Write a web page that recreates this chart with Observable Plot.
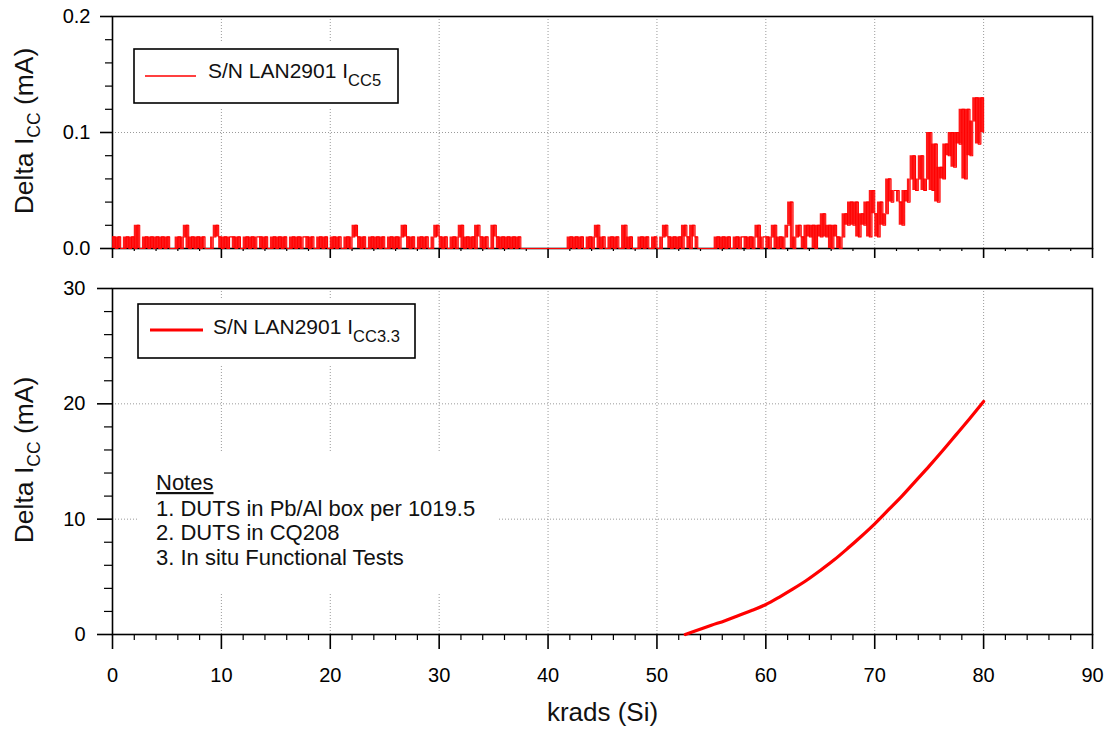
<!DOCTYPE html>
<html><head><meta charset="utf-8">
<script src="https://cdn.jsdelivr.net/npm/d3@7"></script>
<script src="https://cdn.jsdelivr.net/npm/@observablehq/plot@0.6"></script>
<style>
html,body{margin:0;padding:0;background:#fff;}
#chart{position:relative;width:1110px;height:732px;overflow:hidden;}
#chart svg{position:absolute;left:0;}
</style></head><body><div id="chart"></div>
<script>
// ---------- DATA ----------
// Top panel: Delta ICC5 (in µA), sampled every 0.25 krad from 0 to 80
const icc5_0_10  = [10,0,10,0, 0,10,0,10, 0,20,0,0, 10,0,10,0, 10,0,10,0, 10,0,0,0, 10,0,10,20, 0,10,0,10, 0,10,0,0, 0,10,20,10];
const icc5_10_20 = [0,10,0,10, 10,0,10,0, 0,10,0,10, 0,10,10,0, 10,0,0,10, 0,10,0,10, 0,0,10,0, 10,0,10,10, 0,10,0,0, 10,0,10,0];
const icc5_20_30 = [0,10,0,10, 0,0,10,0, 10,20,10,0, 10,0,0,10, 0,10,0,10, 0,0,10,0, 10,0,10,20, 10,0,10,0, 0,10,0,10, 0,0,10,20];
const icc5_30_40 = [10,0,10,0, 0,10,0,10, 20,0,10,0, 10,0,20,10, 0,10,0,0, 20,10,0,10, 0,10,0,10, 0,10,0,0, 0,0,0,0, 0,0,0,0];
const icc5_40_50 = [0,0,0,0, 0,0,0,0, 10,0,10,0, 10,0,0,10, 0,10,20,0, 10,0,0,10, 0,10,0,0, 20,0,10,0, 0,0,10,0, 10,0,0,10];
const icc5_50_60 = [0,0,10,20, 10,0,10,0, 10,0,20,10, 0,20,10,0, 0,0,0,0, 0,0,10,0, 10,0,10,0, 0,10,0,10, 10,0,10,0, 10,20,0,10];
const icc5_60_70 = [10,0,10,20, 0,10,0,10, 20,40,0,10, 20,10,0,20, 10,20,0,20, 10,30,10,20, 0,20,10,0, 10,30,20,40, 20,40,10,30, 20,40,10,50];
const icc5_70_80 = [30,10,40,20, 30,60,40,50, 50,40,20,50, 40,60,80,50, 60,80,50,60, 100,50,90,40, 70,60,90,80, 100,70,100,90, 120,60,120,80, 110,130,90,130, 100];
const icc5Step = 0.25; // krad between samples

// Bottom panel: Delta ICC3.3 (mA)
const krad33 = [52.6, 53.5, 55, 56.25, 57.5, 58.75, 60, 61.25, 62.5, 63.75, 65, 66.25, 67.5, 68.75, 70, 71.25, 72.5, 73.75, 75, 76.25, 77.5, 78.75, 80];
const icc33  = [0, 0.3, 0.8, 1.2, 1.65, 2.1, 2.6, 3.25, 3.95, 4.7, 5.55, 6.45, 7.45, 8.5, 9.6, 10.8, 12.0, 13.3, 14.6, 15.95, 17.35, 18.75, 20.2];

// Ticks
const xMajorTicks = [0, 10, 20, 30, 40, 50, 60, 70, 80, 90];
const xMinorTicks = [2,4,6,8,12,14,16,18,22,24,26,28,32,34,36,38,42,44,46,48,52,54,56,58,62,64,66,68,72,74,76,78,82,84,86,88];
const xGridTicks = [10, 20, 30, 40, 50, 60, 70, 80];
const topMajorTicks = [0, 0.1, 0.2];
const topMinorTicks = [0.02, 0.04, 0.06, 0.08, 0.12, 0.14, 0.16, 0.18];
const topGridTicks = [0.1];
const botMajorTicks = [0, 10, 20, 30];
const botMinorTicks = [2, 4, 6, 8, 12, 14, 16, 18, 22, 24, 26, 28];
const botGridTicks = [10, 20];

// Text
const xTitle = "krads (Si)";
const yTitleMain = "Delta I", yTitleSub = "CC", yTitleEnd = " (mA)";
const legendTop = ["S/N LAN2901 I", "CC5"];
const legendBot = ["S/N LAN2901 I", "CC3.3"];
const notesTitle = "Notes";
const notesLines = ["1. DUTS in Pb/Al box per 1019.5", "2. DUTS in CQ208", "3. In situ Functional Tests"];

// ---------- BUILD ----------
const icc5All = [].concat(icc5_0_10, icc5_10_20, icc5_20_30, icc5_30_40, icc5_40_50, icc5_50_60, icc5_60_70, icc5_70_80);
const topData = icc5All.map((v, i) => {
  const n = i + 1 < icc5All.length ? icc5All[i + 1] : v;
  return {krad: i * icc5Step, icc: v / 1000, lo: Math.min(v, n) / 1000, hi: Math.max(v, n) / 1000};
});
const botData = krad33.map((k, i) => ({krad: k, icc: icc33[i]}));

const FONT = '"Liberation Sans", Arial, Helvetica, sans-serif';
const RED = "#ff0000";
const gridStyle = {stroke: "#9a9a9a", strokeOpacity: 1, strokeDasharray: "1,2", strokeWidth: 1};
const blank = () => "";

const topPlot = Plot.plot({
  width: 1110, height: 270,
  marginLeft: 112, marginRight: 18, marginTop: 16, marginBottom: 22,
  style: {fontFamily: FONT, fontSize: "20px", color: "black", background: "transparent", overflow: "visible"},
  x: {domain: [0, 90]},
  y: {domain: [0, 0.2]},
  marks: [
    Plot.gridX({ticks: xGridTicks, ...gridStyle}),
    Plot.gridY({ticks: topGridTicks, ...gridStyle}),
    Plot.axisX({ticks: xMajorTicks, tickSize: 10, tickFormat: blank, label: null, strokeWidth: 1.6}),
    Plot.axisX({ticks: xMinorTicks, tickSize: 3, tickFormat: blank, label: null, strokeWidth: 1.2}),
    Plot.axisY({ticks: topMajorTicks, tickSize: 12, tickPadding: 10, tickFormat: ".1f", label: null, strokeWidth: 1.6}),
    Plot.axisY({ticks: topMinorTicks, tickSize: 7, tickFormat: blank, label: null, strokeWidth: 1.2}),
    Plot.frame({stroke: "black", strokeWidth: 1.6}),
    Plot.areaY(topData, {x: "krad", y1: "lo", y2: "hi", curve: "step-after", fill: RED, fillOpacity: 0.9}),
    Plot.line(topData, {x: "krad", y: "icc", stroke: RED, strokeWidth: 1.1, curve: "step-after"})
  ]
});

const botPlot = Plot.plot({
  width: 1110, height: 462,
  marginLeft: 112, marginRight: 18, marginTop: 18, marginBottom: 98,
  style: {fontFamily: FONT, fontSize: "20px", color: "black", background: "transparent", overflow: "visible"},
  x: {domain: [0, 90]},
  y: {domain: [0, 30]},
  marks: [
    Plot.gridX({ticks: xGridTicks, ...gridStyle}),
    Plot.gridY({ticks: botGridTicks, ...gridStyle}),
    Plot.axisX({ticks: xMajorTicks, tickSize: 15, tickPadding: 18, tickFormat: d => String(d), label: null, strokeWidth: 1.6}),
    Plot.axisX({ticks: xMinorTicks, tickSize: 6, tickFormat: blank, label: null, strokeWidth: 1.2}),
    Plot.axisY({ticks: botMajorTicks, tickSize: 15, tickPadding: 12, tickFormat: d => String(d), label: null, strokeWidth: 1.6}),
    Plot.axisY({ticks: botMinorTicks, tickSize: 8, tickFormat: blank, label: null, strokeWidth: 1.2}),
    Plot.text([xTitle], {text: d => d, frameAnchor: "bottom", lineAnchor: "middle", dy: 78, fontSize: 26, fill: "#111"}),
    Plot.frame({stroke: "black", strokeWidth: 1.6}),
    Plot.line(botData, {x: "krad", y: "icc", stroke: RED, strokeWidth: 3.2, curve: "catmull-rom"})
  ]
});

function addYTitle(svg, cy) {
  const t = d3.select(svg).append("text")
    .attr("transform", `translate(33,${cy}) rotate(-90)`)
    .attr("text-anchor", "middle")
    .attr("font-family", FONT)
    .attr("font-size", 26.5)
    .attr("fill", "#111");
  t.append("tspan").text(yTitleMain);
  t.append("tspan").attr("font-size", 17.5).attr("dy", 7).text(yTitleSub);
  t.append("tspan").attr("dy", -7).text(yTitleEnd);
}
addYTitle(topPlot, 131);
addYTitle(botPlot, 190);

const chart = document.getElementById("chart");
topPlot.style.top = "0px";
botPlot.style.top = "270px";
chart.appendChild(topPlot);
chart.appendChild(botPlot);

// Overlay: legends & notes (white boxes mask the grid as in the original)
const ov = d3.create("svg").attr("width", 1110).attr("height", 732)
  .style("position", "absolute").style("top", "0px").style("left", "0px")
  .attr("font-family", FONT);

function legend(bx, by, bw, bh, lx1, lx2, ly, lw, tx, ty, parts) {
  ov.append("rect").attr("x", bx - 6).attr("y", by - 6).attr("width", bw + 12).attr("height", bh + 12).attr("fill", "white");
  ov.append("rect").attr("x", bx).attr("y", by).attr("width", bw).attr("height", bh)
    .attr("fill", "white").attr("stroke", "black").attr("stroke-width", 1.6);
  ov.append("line").attr("x1", lx1).attr("x2", lx2).attr("y1", ly).attr("y2", ly)
    .attr("stroke", RED).attr("stroke-width", lw);
  const t = ov.append("text").attr("x", tx).attr("y", ty).attr("font-size", 21).attr("fill", "#111");
  t.append("tspan").text(parts[0]);
  t.append("tspan").attr("font-size", 16.5).attr("dy", 8).text(parts[1]);
}
legend(134, 49, 264, 54, 145, 196, 76, 1.3, 208, 78, legendTop);
legend(138, 304, 277, 54, 150, 203, 330, 3, 213, 334, legendBot);

// notes
ov.append("rect").attr("x", 137).attr("y", 453).attr("width", 360).attr("height", 140).attr("fill", "white");
ov.append("text").attr("x", 156).attr("y", 490).attr("font-size", 22).attr("fill", "#111")
  .attr("text-decoration", "underline").text(notesTitle);
notesLines.forEach((s, i) => {
  ov.append("text").attr("x", 156).attr("y", 515.5 + i * 24.8).attr("font-size", 22).attr("fill", "#111").text(s);
});
chart.appendChild(ov.node());
</script></body></html>
